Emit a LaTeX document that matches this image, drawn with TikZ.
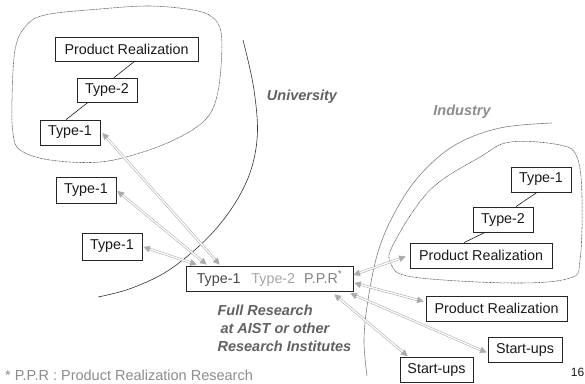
\documentclass[tikz,border=0pt]{standalone}
\usepackage{fontspec}
\setmainfont{Liberation Sans}
\usetikzlibrary{arrows.meta,calc}
\begin{document}
\begin{tikzpicture}[x=1pt,y=-1pt,
  box/.style={draw=black!85, line width=0.8pt, inner sep=0pt, minimum height=25pt,
    font=\fontsize{14.3}{16}\selectfont, text=black!90},
  link/.style={draw=black!90, line width=0.6pt},
  dbl/.style={draw=black!33, line width=0.55pt, double=white, double distance=1.3pt,
    {Triangle[length=6.5pt,width=6.5pt]}-{Triangle[length=6.5pt,width=6.5pt]}},
  region/.style={draw=black!72, line width=0.55pt, dash pattern=on 0.8pt off 0.6pt},
  border/.style={draw=black!80, line width=0.6pt},
  lab/.style={font=\fontsize{14.5}{18}\selectfont\bfseries\itshape},
]
\useasboundingbox (0,0) rectangle (585,383);

% University blob (dotted)
\draw[region] plot[smooth cycle, tension=0.6] coordinates {
  (45,15) (100,9) (150,6) (193,10) (212,17) (221,32) (221,67) (216,100) (205,120)
  (180,137) (143,152) (100,162) (50,160) (20,150) (13,133) (12,100) (15,50) (25,27)};

% University boundary arc
\draw[border] plot[smooth, tension=0.6] coordinates {
  (243,40) (254,90) (257,140) (245,185) (215,230) (172,268) (132,288) (98,297)};

% Industry boundary arc
\draw[draw=black!50, line width=0.6pt] plot[smooth, tension=0.6] coordinates {
  (552,123) (500,128) (455,145) (420,175) (395,212) (378,252) (368,300) (364,340) (367,376)};

% Industry blob (dotted)
\draw[region] plot[smooth cycle, tension=0.6] coordinates {
  (510,142) (560,145) (577,157) (582,197) (580,260) (570,278) (513,283)
  (413,277) (391,264) (394,243) (430,190) (480,157)};

% Labels
\node[lab, text=black!62] (uni) at (302,97) {University};
\node[lab, text=black!45] (ind) at (462,112) {Industry};
\node[lab, text=black!62, anchor=west] (fr1) at (214,310) {Full Research};
\node[lab, text=black!62, anchor=west] (fr2) at (217,328) {at AIST or other};
\node[lab, text=black!62, anchor=west] (fr3) at (214,346) {Research Institutes};
\node[anchor=west, font=\fontsize{14.5}{16}\selectfont, text=black!45, inner sep=0pt] (foot) at (5,375)
  {* P.P.R : Product Realization Research};
\node[anchor=east, font=\fontsize{12}{14}\selectfont, text=black!90, inner sep=0pt] (pg) at (584.5,372) {16};

% University boxes
\node[box, minimum width=143pt, minimum height=24pt] (PRu) at (126.5,49) {Product Realization};
\node[box, minimum width=60pt, minimum height=24pt] (T2u) at (107,90) {Type-2};
\node[box, minimum width=60pt] (T1u) at (70,132.5) {Type-1};
\draw[link] ($(PRu.south)+(8,0)$) -- ($(T2u.north)+(7,0)$);
\draw[link] ($(T2u.south)+(-19,0)$) -- ($(T1u.north)+(-4,0)$);

% Outside university
\node[box, minimum width=60pt, minimum height=26pt] (T1a) at (86,190) {Type-1};
\node[box, minimum width=60pt, minimum height=27pt] (T1b) at (112,246.5) {Type-1};

% Central box
\node[box, minimum width=167pt] (C) at (269.5,278.5)
  {\textcolor{black!72}{Type-1}\hspace{11pt}\textcolor{black!35}{Type-2}\hspace{9pt}\textcolor{black!50}{P.P.R\textsuperscript{*}}};

% Industry boxes
\node[box, minimum width=60pt] (T1i) at (541,179.5) {Type-1};
\node[box, minimum width=60pt] (T2i) at (503,219.5) {Type-2};
\node[box, minimum width=142pt] (PRi) at (481,255.5) {Product Realization};
\draw[link] ($(T1i.south)+(-4,0)$) -- ($(T2i.north)+(13,0)$);
\draw[link] ($(T2i.south)+(-18,0)$) -- ($(PRi.north)+(-17,0)$);

\node[box, minimum width=141pt] (PR2) at (496.5,308.5) {Product Realization};
\node[box, minimum width=74pt] (SU1) at (525,349.5) {Start-ups};
\node[box, minimum width=73pt] (SU2) at (436.5,370) {Start-ups};

% Double arrows
\draw[dbl] ($(T1u.east)+(2,0.5)$) -- ($(C.north west)+(34,-1)$);
\draw[dbl] ($(T1a.east)+(1,1)$) -- ($(C.north west)+(21,-1)$);
\draw[dbl] ($(T1b.east)+(1,0.5)$) -- ($(C.north west)+(11,-1)$);
\draw[dbl] ($(C.east)+(0,-3.5)$) -- ($(PRi.west)+(-4,1)$);
\draw[dbl] ($(C.east)+(1,4.5)$) -- ($(PR2.west)+(-2,-7)$);
\draw[dbl] ($(C.south east)+(-3,2)$) -- ($(SU1.west)+(-1,3)$);
\draw[dbl] ($(C.south east)+(-19,3)$) -- ($(SU2.north west)+(8,-1)$);
\end{tikzpicture}
\end{document}
